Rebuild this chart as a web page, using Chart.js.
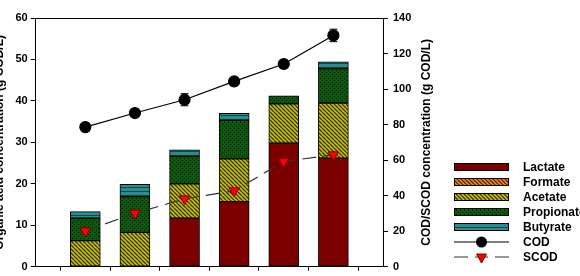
<!DOCTYPE html>
<html>
<head>
<meta charset="utf-8">
<script src="https://cdn.jsdelivr.net/npm/chart.js@4"></script>
<style>
  html, body { margin: 0; padding: 0; background: #fff; overflow: hidden; width: 580px; height: 276px; }
  #wrap { position: absolute; left: -10px; top: 0; width: 590px; height: 276px; }
</style>
</head>
<body>
<div id="wrap"><canvas id="c" width="590" height="276"></canvas></div>
<script>
// datos (g COD/L)
const POS        = [1, 2, 3, 4, 5, 6];
const LACTATE    = [0, 0, 11.7, 15.7, 29.8, 26.2];
const FORMATE    = [0, 0, 0, 0, 0, 0];
const ACETATE    = [6.3, 8.3, 8.3, 10.3, 9.5, 13.3];
const PROPIONATE = [5.4, 8.6, 6.6, 9.3, 1.9, 8.3];
const BUTYRATE   = [1.6, 3.0, 1.6, 1.7, 0, 1.6];
const COD        = [78.6, 86.5, 94.0, 104.3, 114.1, 130.2];
const COD_ERR    = [0, 0, 3.4, 0, 0, 3.5];
const SCOD       = [20.1, 30.1, 38.2, 42.7, 59.2, 63.0];
const Y_TICKS    = [0, 10, 20, 30, 40, 50, 60];
const Y2_TICKS   = [0, 20, 40, 60, 80, 100, 120, 140];
const NAMES      = ['Lactate', 'Formate', 'Acetate', 'Propionate', 'Butyrate', 'COD', 'SCOD'];
const Y2_TITLE   = 'COD/SCOD concentration (g COD/L)';

const FONT = "'Liberation Sans', Arial, sans-serif";
Chart.defaults.font.family = FONT;
Chart.defaults.color = '#000';

// patrones de relleno
function pat(base, size, draw) {
  const c = document.createElement('canvas');
  c.width = c.height = size;
  const g = c.getContext('2d');
  g.fillStyle = base;
  g.fillRect(0, 0, size, size);
  draw(g, size);
  return g.createPattern(c, 'repeat');
}
const diag = ink => (g, s) => {
  g.strokeStyle = ink; g.lineWidth = 1.3;
  g.beginPath();
  for (const k of [-s, 0, s]) { g.moveTo(k, 0); g.lineTo(k + s, s); }
  g.stroke();
};
const FILL_LAC  = '#7a0000';
const FILL_FOR  = pat('#f08a10', 4, diag('#5a2800'));
const FILL_ACE  = pat('#c8c400', 4, diag('#3a3800'));
const FILL_PRO  = pat('#0b5a0b', 4, (g) => { g.fillStyle = '#001a00'; g.fillRect(0, 0, 1, 1); g.fillRect(2, 2, 1, 1); });
const FILL_BUT  = pat('#2a8c8c', 4, (g) => { g.fillStyle = '#104848'; g.fillRect(0, 3, 4, 1); });

const pts = arr => POS.map((p, i) => ({ x: p, y: arr[i] === 0 ? null : arr[i] }));

const barDs = (label, arr, fill) => ({
  type: 'bar', label, data: pts(arr), backgroundColor: fill,
  borderColor: '#000', borderWidth: 1, borderSkipped: false,
  barThickness: 30, yAxisID: 'y', order: 2
});

const noPad = s => { s.paddingTop = 0; s.paddingBottom = 0; s.paddingLeft = 0; s.paddingRight = 0; };

// barras de error del COD + marco superior + título derecho + leyenda
const extras = {
  id: 'extras',
  afterDatasetsDraw(chart) {
    const ctx = chart.ctx, y2 = chart.scales.y2;
    const meta = chart.getDatasetMeta(5);
    ctx.save();
    ctx.strokeStyle = '#000'; ctx.lineWidth = 1;
    meta.data.forEach((pt, i) => {
      const e = COD_ERR[i];
      if (!e) return;
      const a = y2.getPixelForValue(COD[i] + e), b = y2.getPixelForValue(COD[i] - e);
      ctx.beginPath();
      ctx.moveTo(pt.x, a); ctx.lineTo(pt.x, b);
      ctx.moveTo(pt.x - 4, a); ctx.lineTo(pt.x + 4, a);
      ctx.moveTo(pt.x - 4, b); ctx.lineTo(pt.x + 4, b);
      ctx.stroke();
    });
    ctx.restore();
  },
  afterDraw(chart) {
    const ctx = chart.ctx, a = chart.chartArea;
    ctx.save();
    ctx.strokeStyle = '#000'; ctx.lineWidth = 1;
    ctx.beginPath(); ctx.moveTo(a.left, a.top + 0.5); ctx.lineTo(a.right, a.top + 0.5); ctx.stroke();

    // título del eje derecho, leído de abajo hacia arriba
    ctx.save();
    ctx.translate(chart.scales.y2.right - 11, (a.top + a.bottom) / 2);
    ctx.rotate(-Math.PI / 2);
    ctx.font = 'bold 12px ' + FONT;
    ctx.fillStyle = '#000';
    ctx.textAlign = 'center';
    ctx.textBaseline = 'middle';
    ctx.fillText(Y2_TITLE, 0, 0);
    ctx.restore();

    // leyenda
    const x0 = 464, w = 55, tx = 533;
    const fills = [FILL_LAC, FILL_FOR, FILL_ACE, FILL_PRO, FILL_BUT];
    ctx.font = 'bold 12px ' + FONT;
    ctx.textBaseline = 'middle';
    NAMES.forEach((name, i) => {
      const y = 167 + i * 15;
      if (i < 5) {
        ctx.fillStyle = fills[i];
        ctx.fillRect(x0, y - 4, w, 8);
        ctx.strokeStyle = '#000'; ctx.lineWidth = 1;
        ctx.strokeRect(x0 + 0.5, y - 3.5, w - 1, 7);
      } else if (i === 5) {
        ctx.strokeStyle = '#000'; ctx.lineWidth = 1.2;
        ctx.beginPath(); ctx.moveTo(x0, y); ctx.lineTo(x0 + w, y); ctx.stroke();
        ctx.fillStyle = '#000';
        ctx.beginPath(); ctx.arc(x0 + w / 2, y, 5.5, 0, Math.PI * 2); ctx.fill();
      } else {
        ctx.strokeStyle = '#333'; ctx.lineWidth = 1.2;
        ctx.beginPath();
        ctx.moveTo(x0, y); ctx.lineTo(x0 + 14, y);
        ctx.moveTo(x0 + 21, y); ctx.lineTo(x0 + 34, y);
        ctx.moveTo(x0 + 41, y); ctx.lineTo(x0 + w, y);
        ctx.stroke();
        const cx = x0 + w / 2;
        ctx.fillStyle = '#ff0000'; ctx.strokeStyle = '#800000'; ctx.lineWidth = 1;
        ctx.beginPath(); ctx.moveTo(cx - 5, y - 3); ctx.lineTo(cx + 5, y - 3); ctx.lineTo(cx, y + 6); ctx.closePath();
        ctx.fill(); ctx.stroke();
      }
      ctx.fillStyle = '#000';
      ctx.fillText(name, tx, y + 0.5);
    });
    ctx.restore();
  }
};

const tickFont = { family: FONT, size: 11, weight: 'bold' };
const titleFont = { family: FONT, size: 12, weight: 'bold' };

new Chart(document.getElementById('c'), {
  type: 'bar',
  data: {
    datasets: [
      barDs('Lactate', LACTATE, FILL_LAC),
      barDs('Formate', FORMATE, FILL_FOR),
      barDs('Acetate', ACETATE, FILL_ACE),
      barDs('Propionate', PROPIONATE, FILL_PRO),
      barDs('Butyrate', BUTYRATE, FILL_BUT),
      {
        type: 'line', label: 'COD', data: pts(COD), yAxisID: 'y2', order: 0,
        borderColor: '#000', borderWidth: 1.2, pointRadius: 5.5,
        pointBackgroundColor: '#000', pointBorderColor: '#000'
      },
      {
        type: 'line', label: 'SCOD', data: pts(SCOD), yAxisID: 'y2', order: 1,
        borderColor: '#333', borderWidth: 1.2, borderDash: [14, 7],
        pointStyle: 'triangle', pointRotation: 180, pointRadius: 6,
        pointBackgroundColor: '#ff0000', pointBorderColor: '#800000', pointBorderWidth: 1
      }
    ]
  },
  options: {
    responsive: false,
    animation: false,
    devicePixelRatio: 1,
    layout: { padding: { left: 0, right: 142, top: 18, bottom: 0 } },
    plugins: { legend: { display: false }, tooltip: { enabled: false } },
    scales: {
      x: {
        type: 'linear', min: 0, max: 7, stacked: true, offset: false,
        ticks: { stepSize: 1, display: false },
        afterBuildTicks: s => { s.ticks = s.ticks.filter(t => POS.includes(t.value)); },
        afterFit: s => { s.height = 9.3; noPad(s); },
        grid: { drawOnChartArea: false, color: '#000', tickLength: 4 },
        border: { color: '#000' }
      },
      y: {
        position: 'left', stacked: true, min: 0, max: 60,
        afterBuildTicks: s => { s.ticks = Y_TICKS.map(v => ({ value: v })); },
        afterFit: s => { s.width = 45.7; noPad(s); },
        ticks: { font: tickFont, padding: 3, color: '#000' },
        grid: { drawOnChartArea: false, color: '#000', tickLength: 5 },
        border: { color: '#000' },
        title: { display: true, text: 'Organic acid concentration (g COD/L)', font: titleFont, color: '#000', padding: { top: 2, bottom: 0 } }
      },
      y2: {
        position: 'right', min: 0, max: 140,
        afterBuildTicks: s => { s.ticks = Y2_TICKS.map(v => ({ value: v })); },
        afterFit: s => { s.width = 55; noPad(s); },
        ticks: { font: tickFont, padding: 5, color: '#000' },
        grid: { drawOnChartArea: false, color: '#000', tickLength: 5 },
        border: { color: '#000' }
      }
    }
  },
  plugins: [extras]
});
</script>
</body>
</html>
